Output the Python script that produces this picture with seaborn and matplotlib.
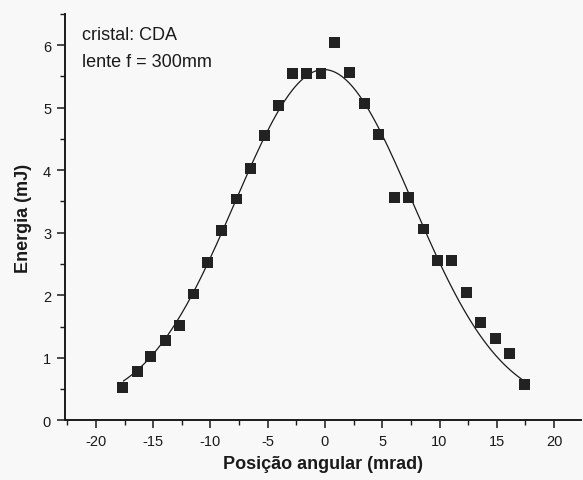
import numpy as np
import pandas as pd
import matplotlib
matplotlib.use("Agg")
import matplotlib.pyplot as plt
from matplotlib.ticker import MultipleLocator
import seaborn as sns

# =========================
# DATA
# =========================
angle_mrad = [-17.66, -16.40, -15.20, -13.95, -12.73, -11.48, -10.23, -9.00,
              -7.76, -6.54, -5.32, -4.07, -2.85, -1.60, -0.35, 0.87,
              2.18, 3.43, 4.70, 6.05, 7.27, 8.57, 9.79, 11.04,
              12.35, 13.60, 14.90, 16.13, 17.44]
energy_mj = [0.52, 0.78, 1.02, 1.27, 1.52, 2.02, 2.52, 3.03,
             3.54, 4.03, 4.55, 5.04, 5.55, 5.55, 5.55, 6.05,
             5.57, 5.06, 4.57, 3.56, 3.56, 3.06, 2.56, 2.56,
             2.05, 1.57, 1.31, 1.07, 0.58]

# gaussian fit parameters (offset, amplitude, centre, sigma)
fit_y0 = 0.20
fit_amp = 5.41
fit_xc = -0.10
fit_sigma = 7.77
fit_range = (-17.6, 17.45)

x_ticks = [-20, -15, -10, -5, 0, 5, 10, 15, 20]
y_ticks = [0, 1, 2, 3, 4, 5, 6]

pts = pd.DataFrame({"angle": angle_mrad, "energy": energy_mj})
xf = np.linspace(fit_range[0], fit_range[1], 300)
fit = pd.DataFrame({
    "angle": xf,
    "energy": fit_y0 + fit_amp * np.exp(-(xf - fit_xc) ** 2 / (2 * fit_sigma ** 2)),
})

# =========================
# PLOT
# =========================
sns.set_style("ticks")
plt.rcParams["font.family"] = ["Liberation Sans", "DejaVu Sans"]
plt.rcParams["axes.unicode_minus"] = False

fig = plt.figure(figsize=(5.83, 4.81), dpi=100, facecolor="#f7f8f7")
ax = fig.add_axes([0.1115, 0.1241, 0.885, 0.8449])
ax.set_facecolor("#f7f8f7")

sns.lineplot(data=fit, x="angle", y="energy", ax=ax, color="#1a1a1a",
             linewidth=0.9, sort=False)
sns.scatterplot(data=pts, x="angle", y="energy", ax=ax, marker="s", s=62,
                color="#222222", edgecolor="none", zorder=3)

ax.set_xlim(-22.7, 22.35)
ax.set_ylim(0, 6.5)
ax.set_xticks(x_ticks)
ax.set_yticks(y_ticks)
ax.xaxis.set_minor_locator(MultipleLocator(2.5))
ax.yaxis.set_minor_locator(MultipleLocator(0.5))
ax.tick_params(which="major", direction="out", length=6, width=1.1,
               labelsize=10.5, colors="#1a1a1a", pad=4)
ax.tick_params(which="minor", direction="out", length=3.5, width=1.0,
               colors="#1a1a1a")

for side in ["top", "right"]:
    ax.spines[side].set_visible(False)
for side in ["left", "bottom"]:
    ax.spines[side].set_linewidth(1.4)
    ax.spines[side].set_color("#1a1a1a")

ax.set_xlabel("Posição angular (mrad)", fontsize=13, fontweight="bold",
              color="#1a1a1a", labelpad=5)
ax.set_ylabel("Energia (mJ)", fontsize=13, fontweight="bold",
              color="#1a1a1a", labelpad=8)

ax.text(0.033, 0.949, "cristal: CDA", transform=ax.transAxes, fontsize=13,
        color="#1a1a1a", va="center")
ax.text(0.033, 0.882, "lente f = 300mm", transform=ax.transAxes, fontsize=13,
        color="#1a1a1a", va="center")

fig.savefig("out.png", dpi=100, facecolor=fig.get_facecolor())
plt.close(fig)
